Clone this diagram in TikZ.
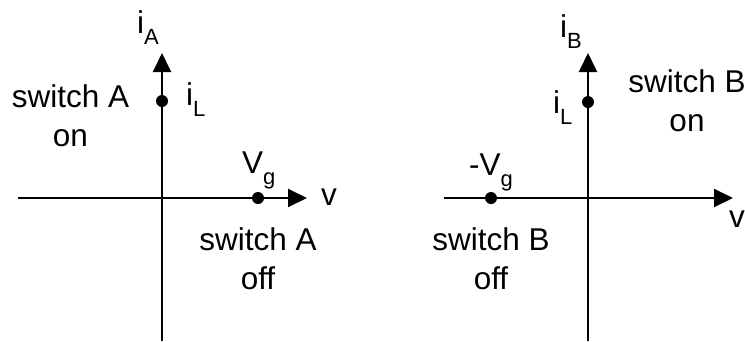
\documentclass[tikz,border=0pt]{standalone}
\usepackage{fontspec}
\setmainfont{Liberation Sans}
\usetikzlibrary{arrows.meta,positioning}
\newcommand\lowsub[1]{\raisebox{-11pt}{\fontsize{22}{22}\selectfont #1}}

\begin{document}
\begin{tikzpicture}[
    x=1pt,y=-1pt,
    axis/.style={-{Triangle[length=19pt,width=18pt]},line width=2pt},
    dotmark/.style={circle,fill,inner sep=0pt,minimum size=12pt},
    lbl/.style={inner sep=0pt,anchor=base west,font=\fontsize{31.5}{39}\selectfont},
    switchlbl/.style={inner sep=0pt,anchor=base,align=center,font=\fontsize{31.5}{39}\selectfont}
  ]
  \useasboundingbox (0,0) rectangle (745,341);

  \coordinate (botA) at (162,341);
  \coordinate (topA) at (162,53);
  \coordinate (leftA) at (18,198);
  \coordinate (rightA) at (307,198);
  \draw[axis] (botA) -- (topA);
  \draw[axis] (leftA) -- (rightA);
  \node[dotmark] (dotiLA) at (162,101) {};
  \node[dotmark] (dotVg) at (258,198) {};
  \node[lbl] (iA) at (137,33) {i\lowsub{A}};
  \node[lbl] (iLA) at (186,105) {i\lowsub{L}};
  \node[switchlbl] (onA) at (70.5,146) {switch A\\on};
  \node[lbl] (Vg) at (242,173) {V\lowsub{g}};
  \node[lbl] (vA) at (321,205) {v};
  \node[switchlbl] (offA) at (258,289) {switch A\\off};

  \coordinate (botB) at (588,341);
  \coordinate (topB) at (588,53);
  \coordinate (leftB) at (444,198);
  \coordinate (rightB) at (733,198);
  \draw[axis] (botB) -- (topB);
  \draw[axis] (leftB) -- (rightB);
  \node[dotmark] (dotiLB) at (588,102) {};
  \node[dotmark] (dotmVg) at (491,198) {};
  \node[lbl] (iB) at (560,37) {i\lowsub{B}};
  \node[lbl] (iLB) at (553,113) {i\lowsub{L}};
  \node[switchlbl] (onB) at (687,131) {switch B\\on};
  \node[lbl] (mVg) at (469,175) {-V\lowsub{g}};
  \node[lbl] (vB) at (729,227) {v};
  \node[switchlbl] (offB) at (491,289) {switch B\\off};
\end{tikzpicture}
\end{document}
